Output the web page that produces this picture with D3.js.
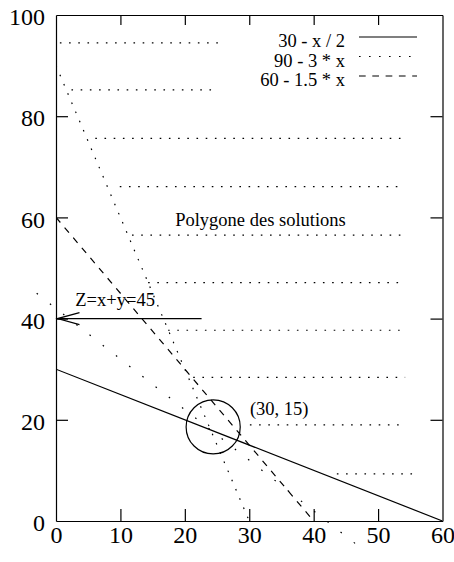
<!DOCTYPE html>
<html>
<head>
<meta charset="utf-8">
<script src="https://cdn.jsdelivr.net/npm/d3@7"></script>
<style>
  html, body { margin: 0; padding: 0; background: #fff; }
  svg { display: block; font-family: "Liberation Serif", "Times New Roman", serif; }
  svg text { font-family: "Liberation Serif", "Times New Roman", serif !important; }
</style>
</head>
<body>
<svg id="chart" width="454" height="562"></svg>
<script>
// ---- data ----
const xTicks = [0, 10, 20, 30, 40, 50, 60];
const yTicks = [0, 20, 40, 60, 80, 100];

const seriesNames = ["30 - x / 2", "90 - 3 * x", "60 - 1.5 * x"];
const line1 = [[0, 30], [60, 0]];     // 30 - x/2
const line2 = [[0, 90], [30, 0]];     // 90 - 3x
const line3 = [[0, 60], [40, 0]];     // 60 - 1.5x
const zLine = [[-3, 45], [48, -6]];   // objective line

const hatchY    = [94.5, 85.2, 75.6, 66.1, 56.5, 47.1, 37.7, 28.4, 19.0, 9.3];
const hatchFrom = [0.6, 2.4, 6.1, 9.9, 11.8, 14.3, 17.4, 21.3, 30.1, 43.6];
const hatchTo   = [26.2, 25.2, 53.9, 53.1, 53.9, 54.2, 53.4, 54.2, 54.2, 55.7];

const arrowFrom = [22.6, 40];
const arrowTo = [0, 40];
const circleCenter = [24.4, 18.6];
const circleRadius = 4.2;

const labels = [
  { text: "Polygone des solutions", x: 18.5, y: 58.3 },
  { text: "Z=x+y=45", x: 3.0, y: 42.4 },
  { text: "(30, 15)", x: 30.1, y: 20.9 }
];

// ---- layout ----
const FONT = '"Liberation Serif", "Times New Roman", serif';
const svg = d3.select("#chart");
const L = 56, R = 442.5, T = 15, B = 521;
const x = d3.scaleLinear().domain([0, 60]).range([L, R]);
const y = d3.scaleLinear().domain([0, 100]).range([B, T]);

const tickFont = 24, textFont = 18.5;

// axes (frame + inward ticks)
const gB = svg.append("g").attr("transform", `translate(0,${B})`)
  .call(d3.axisBottom(x).tickValues(xTicks).tickSize(-12).tickSizeOuter(0).tickPadding(5).tickFormat(d3.format("d")));
const gT = svg.append("g").attr("transform", `translate(0,${T})`)
  .call(d3.axisTop(x).tickValues(xTicks).tickSize(-10).tickSizeOuter(0).tickFormat(""));
const gL = svg.append("g").attr("transform", `translate(${L},0)`)
  .call(d3.axisLeft(y).tickValues(yTicks).tickSize(-12).tickSizeOuter(0).tickPadding(11).tickFormat(d3.format("d")));
const gR = svg.append("g").attr("transform", `translate(${R},0)`)
  .call(d3.axisRight(y).tickValues(yTicks).tickSize(-12).tickSizeOuter(0).tickFormat(""));

[gB, gT, gL, gR].forEach(g => {
  g.attr("font-family", FONT).attr("font-size", tickFont);
  g.selectAll("path.domain").attr("stroke", "#000").attr("stroke-width", 1.2);
  g.selectAll(".tick line").attr("stroke", "#000").attr("stroke-width", 1.2);
  g.selectAll(".tick text").attr("fill", "#000")
    .attr("font-family", FONT).attr("font-size", tickFont);
});
gL.selectAll(".tick text").attr("dy", "0.4em");
[gB, gT].forEach(g => g.selectAll(".tick line").filter(d => d === 0 || d === 60).remove());
[gL, gR].forEach(g => g.selectAll(".tick line").filter(d => d === 0 || d === 100).remove());

// clip for function lines
svg.append("clipPath").attr("id", "plotclip")
  .append("rect").attr("x", L).attr("y", T).attr("width", R - L).attr("height", B - T);

const lineGen = d3.line().x(d => x(d[0])).y(d => y(d[1]));

// hatching of feasible region
svg.append("g").selectAll("line").data(hatchY).join("line")
  .attr("x1", (d, i) => x(hatchFrom[i])).attr("x2", (d, i) => x(hatchTo[i]))
  .attr("y1", d => y(d)).attr("y2", d => y(d))
  .attr("stroke", "#000").attr("stroke-width", 1.2)
  .attr("stroke-dasharray", "1.6,7.6");

// objective line (dotted, sparse)
svg.append("path").datum(zLine).attr("d", lineGen)
  .attr("fill", "none").attr("stroke", "#000").attr("stroke-width", 1.2)
  .attr("stroke-dasharray", "1.6,15.2");

// constraint lines
const styles = [null, "1.6,8.4", "6.7,6.6"];
const lines = [line1, line2, line3];
svg.append("g").attr("clip-path", "url(#plotclip)")
  .selectAll("path").data(lines).join("path")
  .attr("d", lineGen)
  .attr("fill", "none").attr("stroke", "#000").attr("stroke-width", 1.2)
  .attr("stroke-dasharray", (d, i) => styles[i]);

// circle
svg.append("circle")
  .attr("cx", x(circleCenter[0])).attr("cy", y(circleCenter[1]))
  .attr("r", x(circleRadius) - x(0))
  .attr("fill", "none").attr("stroke", "#000").attr("stroke-width", 1.2);

// arrow
const ax0 = x(arrowFrom[0]), ay0 = y(arrowFrom[1]), ax1 = x(arrowTo[0]) + 1.5, ay1 = y(arrowTo[1]);
svg.append("line").attr("x1", ax0).attr("y1", ay0).attr("x2", ax1).attr("y2", ay1)
  .attr("stroke", "#000").attr("stroke-width", 1.4);
svg.append("path")
  .attr("d", `M${ax1 + 22},${ay1 - 6}L${ax1},${ay1}L${ax1 + 22},${ay1 + 6}`)
  .attr("fill", "none").attr("stroke", "#000").attr("stroke-width", 1.2);

// labels
svg.append("g").selectAll("text").data(labels).join("text")
  .attr("x", d => x(d.x)).attr("y", d => y(d.y))
  .attr("fill", "#000").attr("font-family", FONT).attr("font-size", textFont)
  .text(d => d.text);

// legend
const legRight = 345, legY = [47, 66.5, 86];
const leg = svg.append("g");
seriesNames.forEach((name, i) => {
  leg.append("text").attr("x", legRight).attr("y", legY[i])
    .attr("text-anchor", "end").attr("fill", "#000")
    .attr("font-family", FONT).attr("font-size", textFont).text(name);
  leg.append("line").attr("x1", 359).attr("x2", 417)
    .attr("y1", legY[i] - 10).attr("y2", legY[i] - 10)
    .attr("stroke", "#000").attr("stroke-width", 1.2)
    .attr("stroke-dasharray", styles[i]);
});
</script>
</body>
</html>
